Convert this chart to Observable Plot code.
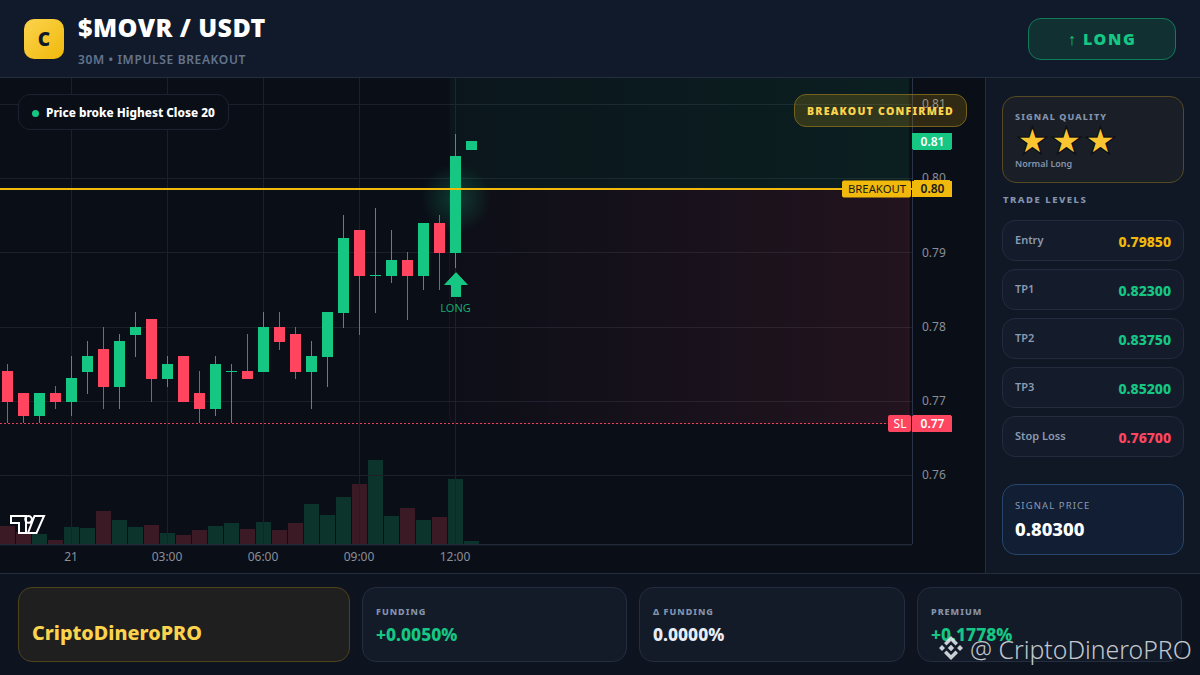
<!DOCTYPE html>
<html>
<head>
<meta charset="utf-8">
<script src="https://cdn.jsdelivr.net/npm/d3@7"></script>
<script src="https://cdn.jsdelivr.net/npm/@observablehq/plot@0.6"></script>
<style>
*{box-sizing:border-box}
html,body{margin:0;padding:0;width:1200px;height:675px;overflow:hidden;background:#0d1420;font-family:"Noto Sans",sans-serif}
.abs{position:absolute}
#header{left:0;top:0;width:1200px;height:78px;background:#111a2b;border-bottom:1px solid #252d40}
#logo{left:24px;top:19px;width:40px;height:40px;border-radius:10px;background:linear-gradient(135deg,#fcd34d,#f0b90b);color:#111827;font-weight:900;font-size:19px;display:flex;align-items:center;justify-content:center}
#title{left:78px;top:11px;font-size:25px;font-weight:900;letter-spacing:.45px;color:#fff;line-height:33px;white-space:nowrap}
#sub{left:78px;top:51px;font-size:12px;font-weight:600;color:#64748b;letter-spacing:.65px;line-height:17px;white-space:nowrap}
#long{left:1028px;top:18px;width:148px;height:42px;border-radius:13px;background:#103032;border:1px solid #117a5a;color:#16c784;font-weight:900;font-size:16px;letter-spacing:1.6px;display:flex;align-items:center;justify-content:center}
#stage{left:0;top:78px;width:985px;height:495px;background:#0a0e17}
#stage svg{position:absolute;left:0;top:0;overflow:visible}
#side{left:985px;top:78px;width:215px;height:495px;background:#101826;border-left:1px solid #252d40}
#foot{left:0;top:573px;width:1200px;height:102px;background:#0d1420;border-top:1px solid #252d40}
.pill{border-radius:12px;font-weight:900;white-space:nowrap}
#note{left:18px;top:94px;width:211px;height:36px;border:1px solid #1c2230;background:#0a0e17;color:#fff;font-size:11.8px;line-height:35px;padding-left:27px;font-weight:800}
#note i{position:absolute;left:13px;top:15px;width:7px;height:7px;border-radius:50%;background:#16c784}
#conf{left:794px;top:94px;width:173px;height:33px;background:rgba(240,185,11,.17);border:1px solid #75621a;color:#fcd34d;font-size:10.5px;letter-spacing:1.25px;line-height:32px;text-align:center}
#qual{left:1002px;top:96px;width:182px;height:87px;border-radius:14px;background:#1a1e26;border:1px solid #574a22}
#qual b{position:absolute;left:12px;top:13px;font-size:9px;letter-spacing:1.1px;color:#8494ad;font-weight:800;white-space:nowrap}
#qual span.s{position:absolute;top:24px;font-size:32px;line-height:40px;color:#fbc531;-webkit-text-stroke:2.5px #0c0f16;paint-order:stroke fill;font-family:"DejaVu Sans"}
#qual em{position:absolute;left:12px;top:60px;font-style:normal;font-size:9px;font-weight:600;color:#8494ad}
#tl{left:1003px;top:193px;font-size:9.5px;letter-spacing:1.5px;font-weight:800;color:#8494ad;white-space:nowrap}
.row{left:1002px;width:182px;height:41px;border-radius:13px;background:#141c2b;border:1px solid #222c3f}
.row b{position:absolute;left:12px;top:11px;font-size:11px;font-weight:600;color:#8a9ab2}
.row span{position:absolute;right:12px;top:11px;font-size:14px;font-weight:800;line-height:20px}
#sig{left:1002px;top:484px;width:182px;height:71px;border-radius:14px;background:#121e33;border:1px solid #27466d}
#sig b{position:absolute;left:12px;top:14px;font-size:9.5px;letter-spacing:1.1px;font-weight:400;color:#8a9ab2}
#sig span{position:absolute;left:12px;top:32px;font-size:18.5px;font-weight:800;color:#fff;line-height:24px}
.card{top:587px;height:75px;border-radius:14px;background:#131a28;border:1px solid #242d40}
#brand{left:18px;width:332px;background:#1f1f20;border-color:#4f4319;color:#fcd34d;font-size:19.8px;font-weight:800;padding:33px 0 0 13px;line-height:24px}
.card b{position:absolute;left:13px;top:17px;font-size:9px;letter-spacing:1px;font-weight:800;color:#8494ad}
.card span{position:absolute;left:13px;top:34px;font-size:17.4px;font-weight:800;line-height:24px}
#wm{left:970px;top:632px;font-size:24.8px;line-height:34px;color:rgba(236,240,245,.82);white-space:nowrap;font-family:"Noto Sans",sans-serif;font-weight:300}
</style>
</head>
<body>
<div id="header" class="abs"></div>
<div id="logo" class="abs">C</div>
<div id="title" class="abs">$MOVR / USDT</div>
<div id="sub" class="abs">30M • IMPULSE BREAKOUT</div>
<div id="long" class="abs">↑ LONG</div>
<div id="stage" class="abs"></div>
<div id="side" class="abs"></div>
<div id="foot" class="abs"></div>
<script>
// ---- chart data ----
const times = ["20 22:00","20 22:30","20 23:00","20 23:30","21 00:00","21 00:30","21 01:00","21 01:30","21 02:00","21 02:30",
  "21 03:00","21 03:30","21 04:00","21 04:30","21 05:00","21 05:30","21 06:00","21 06:30","21 07:00","21 07:30",
  "21 08:00","21 08:30","21 09:00","21 09:30","21 10:00","21 10:30","21 11:00","21 11:30","21 12:00","21 12:30"];
const opens = [.77408,.77112,.76802,.77112,.76991,.77395,.77704,.77193,.77893,.78108,
  .77300,.77610,.77112,.76896,.77395,.77408,.77395,.78001,.77906,.77395,
  .77597,.78189,.79307,.78688,.78688,.78903,.78688,.79401,.78997,.80385];
const highs = [.77502,.77112,.77112,.77206,.77610,.77812,.78001,.77906,.78203,.78108,
  .77610,.77610,.77408,.77610,.77502,.77906,.78203,.78203,.78001,.77812,
  .78203,.79509,.79307,.79603,.79307,.79011,.79401,.79509,.80600,.80506];
const lows = [.76704,.76704,.76704,.76896,.76802,.77098,.76896,.76896,.77597,.76991,
  .77193,.76991,.76704,.76802,.76704,.77300,.77395,.77691,.77300,.76896,
  .77193,.77987,.77893,.78189,.78593,.78095,.78499,.78499,.78795,.80385];
const closes = [.76991,.76802,.77112,.76991,.77314,.77610,.77193,.77812,.78001,.77300,
  .77502,.76991,.76896,.77502,.77408,.77300,.78001,.77799,.77395,.77610,
  .78203,.79199,.78688,.78701,.78903,.78688,.79401,.78997,.80304,.80506];
const volumes = [18,12,10,4,17,16,33,24,17,19,11,9,14,18,21,15,22,14,21,40,29,47,60,84,28,36,24,27,65,3];
const tickTimes = ["21 00:00","21 03:00","21 06:00","21 09:00","21 12:00"];
const tickLabels = ["21","03:00","06:00","09:00","12:00"];
const priceTicks = [.76,.77,.78,.79,.80,.81];
const breakoutPrice = .7986, lastPrice = .805, stopPrice = .767, glowPrice = .7974, arrowPrice = .7858, longPrice = .78257;
const priceTop = .81354, priceBottom = .75074;
const zoneStart = "21 11:49";
const tradeLabels = ["Entry","TP1","TP2","TP3","Stop Loss"];
const tradeValues = ["0.79850","0.82300","0.83750","0.85200","0.76700"];
const tradeColors = ["#f0b90b","#16c784","#16c784","#16c784","#ff4560"];
const footLabels = ["FUNDING","Δ FUNDING","PREMIUM"];
const footValues = ["+0.0050%","0.0000%","+0.1778%"];
const footColors = ["#16c784","#e8edf5","#16c784"];

const GREEN = "#16c784", RED = "#ff4560", GOLD = "#f0b90b", GRID = "#1b202b", AXIS = "#8a8f98";
const FONT = '"Noto Sans", sans-serif';
const parse = d3.utcParse("%d %H:%M");
const xDomain = [new Date(Date.UTC(1900,0,20,21,45,56,250)), new Date(Date.UTC(1900,0,22,2,15,56,250))];
const candles = times.map((t,i)=>({t:parse(t),o:opens[i],h:highs[i],l:lows[i],c:closes[i],v:volumes[i],up:closes[i]>=opens[i]}));
const W = 985, H = 495, MR = 73, MB = 29;
const base = {width:W,height:H,marginLeft:0,marginRight:MR,marginTop:0,marginBottom:MB,style:{background:"transparent",fontFamily:FONT}};
const xOpt = {type:"utc",domain:xDomain,range:[0,W-MR]};

// volume pane: its own y scale, same x
const volPlot = Plot.plot({...base,x:{...xOpt,axis:null},y:{domain:[0,466.3],range:[466.3,0],axis:null},marks:[
  Plot.rect(candles,{x1:"t",x2:"t",y1:0,y2:"v",insetLeft:-7.5,insetRight:-7.5,fill:d=>d.up?GREEN:RED,fillOpacity:.2,shapeRendering:"crispEdges"})
]});

// gradients
function defs(){
  const s=d3.create("svg:defs");
  const lin=(id,c,a,b)=>{const g=s.append("linearGradient").attr("id",id);
    g.append("stop").attr("offset","0%").attr("stop-color",c).attr("stop-opacity",a);
    g.append("stop").attr("offset","100%").attr("stop-color",c).attr("stop-opacity",b);};
  lin("gz",GREEN,.045,.09); lin("rz",RED,.012,.1);
  const r=s.append("radialGradient").attr("id","glow");
  r.append("stop").attr("offset","0%").attr("stop-color",GREEN).attr("stop-opacity",.24);
  r.append("stop").attr("offset","100%").attr("stop-color",GREEN).attr("stop-opacity",0);
  return s.node();
}
const upArrow={draw(ctx,size){const r=Math.sqrt(size/Math.PI);
  ctx.moveTo(0,-r);ctx.lineTo(r,r*.08);ctx.lineTo(r*.43,r*.08);ctx.lineTo(r*.43,r);ctx.lineTo(-r*.43,r);ctx.lineTo(-r*.43,r*.08);ctx.lineTo(-r,r*.08);ctx.closePath();}};

const tEnd = xDomain[1], tz = parse(zoneStart), tNoon = parse(tickTimes[4]);
const tags = [
  {p:lastPrice,f:GREEN,c:"#fff",s:d3.format(".2f")(lastPrice)},
  {p:breakoutPrice,f:GOLD,c:"#1a1a1a",s:d3.format(".2f")(breakoutPrice)},
  {p:stopPrice,f:RED,c:"#fff",s:d3.format(".2f")(stopPrice)}
];
const tagsL = [
  {p:breakoutPrice,f:GOLD,c:"#1a1a1a",s:"BREAKOUT",w:70},
  {p:stopPrice,f:RED,c:"#fff",s:"SL",w:24}
];
const pricePlot = Plot.plot({...base,x:{...xOpt},y:{domain:[priceBottom,priceTop],range:[466.3,0]},marks:[
  defs,
  Plot.gridY(priceTicks,{stroke:GRID,strokeOpacity:1,shapeRendering:"crispEdges",dy:-.5}),
  Plot.gridX(tickTimes.map(parse),{stroke:GRID,strokeOpacity:1,shapeRendering:"crispEdges",dx:-.5}),
  Plot.rect([0],{x1:tz,x2:tEnd,y1:breakoutPrice,y2:priceTop,insetRight:3,fill:"url(#gz)"}),
  Plot.rect([0],{x1:tz,x2:tEnd,y1:stopPrice,y2:breakoutPrice,insetRight:3,rx:8,fill:"url(#rz)",stroke:RED,strokeOpacity:.1}),
  Plot.dot([0],{x:tNoon,y:glowPrice,r:35,fill:"url(#glow)"}),
  Plot.ruleY([stopPrice],{stroke:RED,strokeOpacity:.9,strokeDasharray:"2 2",strokeWidth:1,dy:-.5,shapeRendering:"crispEdges"}),
  Plot.ruleX(candles,{x:"t",y1:"l",y2:"h",dx:-.5,stroke:d=>d.up?GREEN:RED,strokeOpacity:.85,shapeRendering:"crispEdges"}),
  Plot.rect(candles,{x1:"t",x2:"t",y1:"o",y2:"c",insetLeft:-5.5,insetRight:-5.5,fill:d=>d.up?GREEN:RED,shapeRendering:"crispEdges"}),
  Plot.ruleY([breakoutPrice],{stroke:GOLD,strokeWidth:2,shapeRendering:"crispEdges",dy:-.5}),
  Plot.dot([0],{x:tNoon,y:arrowPrice,r:13,symbol:upArrow,fill:GREEN,stroke:"#0a0e17",strokeWidth:1}),
  Plot.text(["LONG"],{x:tNoon,y:longPrice,dx:-.5,text:d=>d,fill:GREEN,fillOpacity:.85,fontSize:11}),
  Plot.axisY(priceTicks,{anchor:"right",tickSize:0,tickPadding:10,tickFormat:".2f",fontSize:12,color:AXIS,label:null,dy:-.4,dx:-.5}),
  Plot.ruleX([tEnd],{stroke:"#2a3347"}),
  Plot.ruleY([priceBottom],{stroke:"#2a3347"}),
  Plot.axisX(tickTimes.map(parse),{anchor:"bottom",tickSize:0,tickPadding:8,tickFormat:(d,i)=>tickLabels[i],fontSize:12,color:AXIS,label:null,dx:-1}),
  Plot.rect(tags,{x1:()=>tEnd,x2:()=>tEnd,y1:"p",y2:"p",insetLeft:0,insetRight:-40,insetTop:-8.5,insetBottom:-8.5,rx:2,fill:"f",shapeRendering:"crispEdges"}),
  Plot.text(tags,{x:()=>tEnd,y:"p",dx:20,text:"s",fill:"c",fontSize:12,fontWeight:600}),
  ...tagsL.map(d=>Plot.rect([d],{x1:()=>tEnd,x2:()=>tEnd,y1:"p",y2:"p",insetLeft:-d.w,insetRight:1,insetTop:-8.5,insetBottom:-8.5,rx:2,fill:"f"})),
  ...tagsL.map(d=>Plot.text([d],{x:()=>tEnd,y:"p",dx:-d.w/2-.5,text:"s",fill:"c",fontSize:d.w>30?11.3:12}))
]});
const stage=document.getElementById("stage");
stage.append(volPlot,pricePlot);

// overlays on the chart
const ns=document.body;
function add(html){const t=document.createElement("template");t.innerHTML=html.trim();ns.append(t.content.firstChild);}
add(`<div id="note" class="abs pill"><i></i>Price broke Highest Close 20</div>`);
add(`<div id="conf" class="abs pill">BREAKOUT CONFIRMED</div>`);
add(`<svg class="abs" style="left:9px;top:514px" width="37" height="21" viewBox="0 0 37 21"><path d="M2 2H17V19H10V9H2Z M19.5 2a3.4 3.4 0 1 0 .01 0Z M25.5 2H35L27.5 19H19Z" fill="#0a0e17" stroke="#fff" stroke-width="2"/></svg>`);

// right panel
add(`<div id="qual" class="abs"><b>SIGNAL QUALITY</b><span class="s" style="left:15px">★</span><span class="s" style="left:49px">★</span><span class="s" style="left:83px">★</span><em>Normal Long</em></div>`);
add(`<div id="tl" class="abs">TRADE LEVELS</div>`);
tradeLabels.forEach((l,i)=>add(`<div class="abs row" style="top:${220+49*i}px"><b>${l}</b><span style="color:${tradeColors[i]}">${tradeValues[i]}</span></div>`));
add(`<div id="sig" class="abs"><b>SIGNAL PRICE</b><span>0.80300</span></div>`);

// footer
add(`<div id="brand" class="abs card">CriptoDineroPRO</div>`);
const footX=[362,639,917], footW=[265,266,265];
footLabels.forEach((l,i)=>add(`<div class="abs card" style="left:${footX[i]}px;width:${footW[i]}px"><b>${l}</b><span style="color:${footColors[i]}">${footValues[i]}</span></div>`));
add(`<svg class="abs" style="left:937px;top:634px" width="28" height="28" viewBox="0 0 28 28" fill="rgba(236,240,245,.85)"><path d="M14 2L21 9L18.5 11.5L14 7L9.5 11.5L7 9Z M14 26L7 19L9.5 16.5L14 21L18.5 16.5L21 19Z M14 10.8L17.2 14L14 17.2L10.8 14Z M2 14L5 11L8 14L5 17Z M20 14L23 11L26 14L23 17Z"/></svg>`);
add(`<div id="wm" class="abs">@ CriptoDineroPRO</div>`);
</script>
</body>
</html>
